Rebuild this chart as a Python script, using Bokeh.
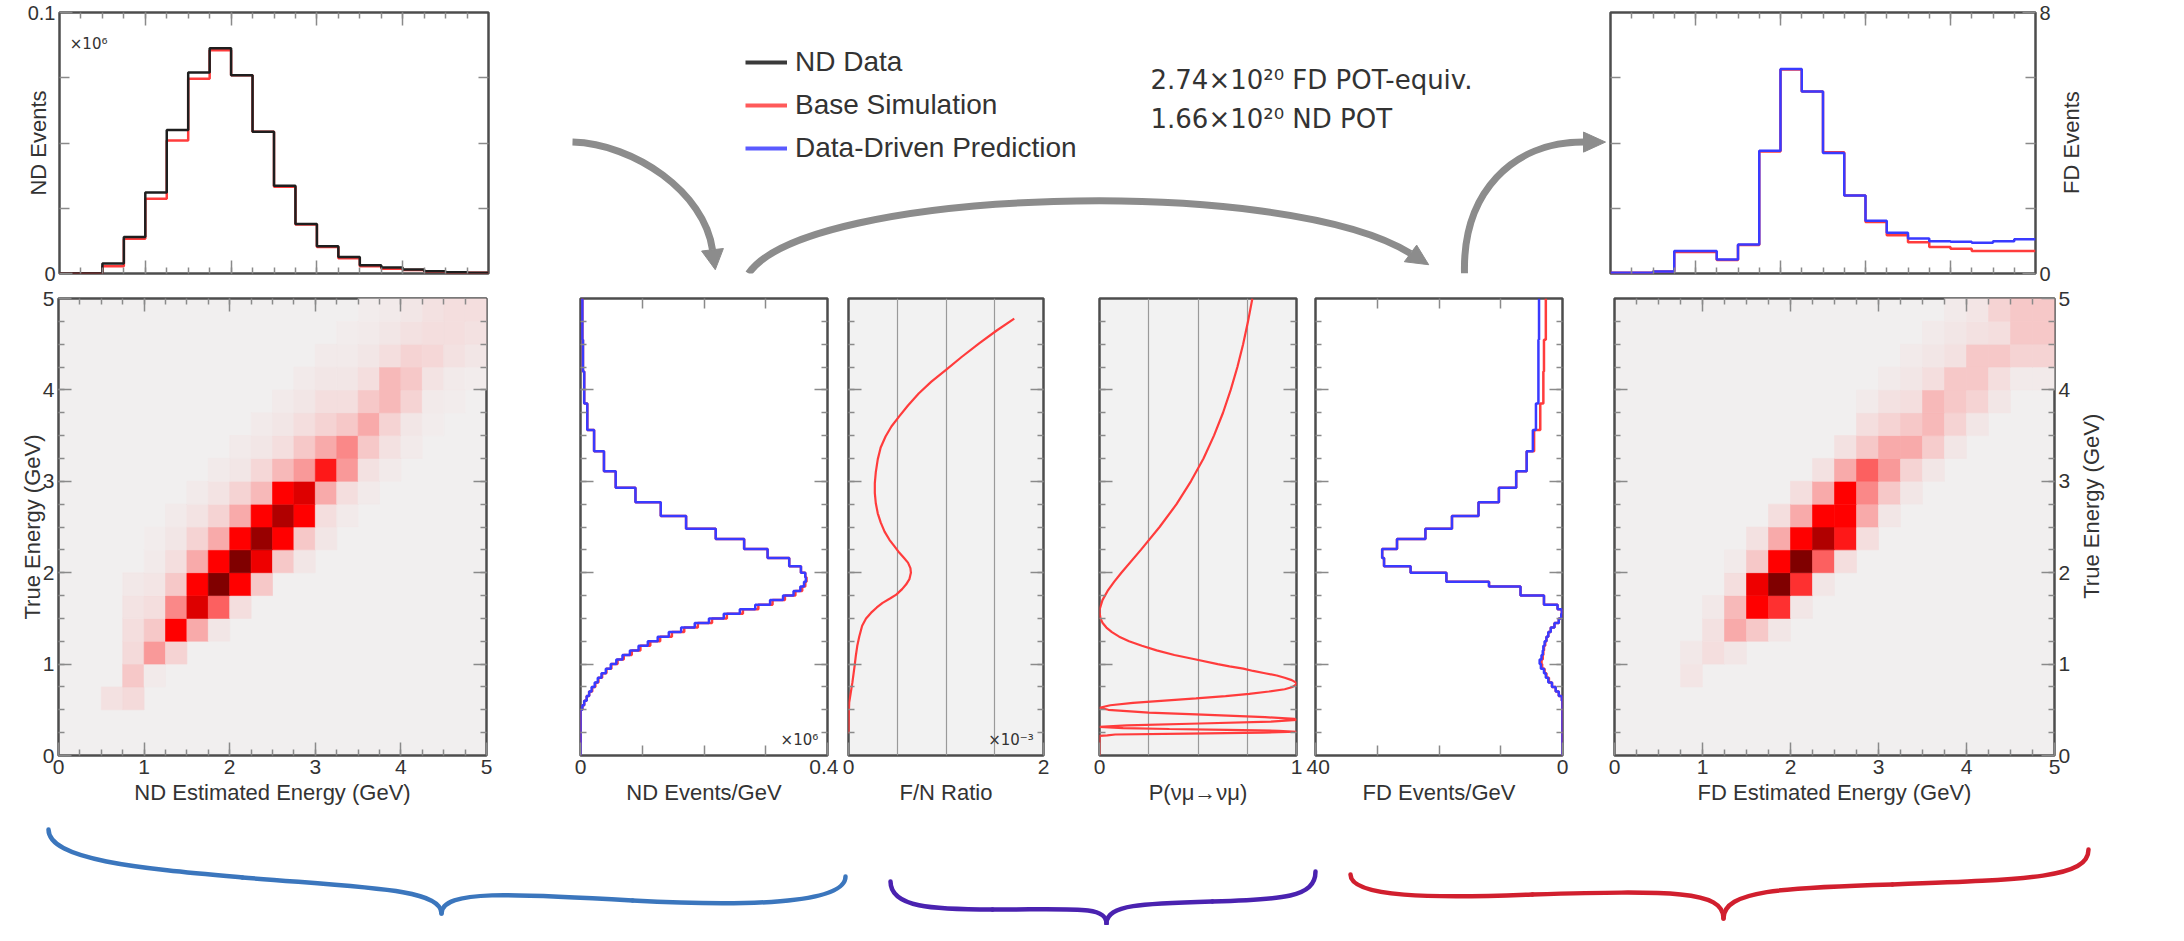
import math
import numpy as np
from bokeh.plotting import figure
from bokeh.layouts import row, column
from bokeh.models import (Range1d, LinearAxis, FixedTicker, NumeralTickFormatter, Grid,
                          Label, Legend, LegendItem, LinearColorMapper, ColumnDataSource)
from bokeh.embed import file_html
from bokeh.resources import INLINE

FONT = "Liberation Sans"
SUPFONT = "DejaVu Sans"
TXT = "#333333"
RED = "#ff3c3c"
BLUE = "#3a3aff"
BLACK = "#1e1e1e"

# ------------------------------------------------------------------ data
# reconstructed-energy bins (GeV) shared by the 1D spectra and 2D maps
e_edges = [0.0, 0.25, 0.5, 0.75, 1.0, 1.25, 1.5, 1.75, 2.0, 2.25, 2.5,
           2.75, 3.0, 3.25, 3.5, 3.75, 4.0, 4.25, 4.5, 4.75, 5.0]

# ND events (x1e6)
nd_data = [0, 0, 0.0038, 0.014, 0.031, 0.055, 0.077, 0.0863, 0.076, 0.0543,
           0.0336, 0.019, 0.0104, 0.0063, 0.0032, 0.0023, 0.0015, 0.0009, 0.0005, 0.0003]
nd_sim = [0, 0, 0.0028, 0.0133, 0.0286, 0.051, 0.0746, 0.0855, 0.076, 0.0543,
          0.0332, 0.0188, 0.0102, 0.0058, 0.0028, 0.0018, 0.0013, 0.0008, 0.0004, 0.0003]

# FD events
fd_pred = [0.02, 0.02, 0.06, 0.69, 0.69, 0.43, 0.89, 3.76, 6.27, 5.58,
           3.69, 2.39, 1.62, 1.25, 1.07, 0.99, 0.97, 0.94, 0.99, 1.05]
fd_sim = [0.02, 0.02, 0.06, 0.66, 0.66, 0.41, 0.87, 3.74, 6.25, 5.58,
          3.72, 2.39, 1.58, 1.17, 0.96, 0.81, 0.76, 0.69, 0.69, 0.69]

# true-energy bins (GeV) for the vertical spectra
true_edges = [0.0, 0.5, 0.55, 0.6, 0.65, 0.7, 0.75, 0.8, 0.85, 0.9, 0.95,
              1.0, 1.05, 1.1, 1.15, 1.2, 1.25, 1.3, 1.35, 1.4, 1.45,
              1.5, 1.55, 1.6, 1.65, 1.7, 1.75, 1.8, 1.85, 1.9, 1.95,
              2.0, 2.07, 2.16, 2.26, 2.37, 2.48, 2.62, 2.77, 2.93, 3.11,
              3.33, 3.56, 3.85, 4.2, 4.55, 5.0]

# ND events / GeV (x1e6)
nd_gev_pred = [0.0,
               0.003, 0.006, 0.010, 0.014, 0.018, 0.023, 0.028, 0.034, 0.041, 0.049,
               0.058, 0.068, 0.080, 0.094, 0.109, 0.125, 0.143, 0.163, 0.185, 0.208,
               0.232, 0.258, 0.283, 0.307, 0.328, 0.345, 0.356, 0.362, 0.365, 0.364,
               0.357, 0.338, 0.303, 0.265, 0.219, 0.171, 0.130, 0.089, 0.057, 0.038,
               0.022, 0.011, 0.006, 0.004, 0.003]
nd_gev_sim = [0.0,
              0.003, 0.006, 0.010, 0.014, 0.019, 0.024, 0.029, 0.035, 0.042, 0.050,
              0.060, 0.070, 0.083, 0.097, 0.113, 0.129, 0.148, 0.168, 0.190, 0.213,
              0.237, 0.263, 0.288, 0.311, 0.331, 0.348, 0.359, 0.364, 0.366, 0.364,
              0.357, 0.338, 0.303, 0.265, 0.219, 0.171, 0.130, 0.089, 0.057, 0.038,
              0.022, 0.011, 0.006, 0.004, 0.003]

# FD events / GeV
fd_gev_pred = [0.0,
               0.0, 0.0, 0.1, 0.6, 1.1, 1.7, 2.3, 2.7, 3.0, 3.5,
               3.7, 3.4, 3.2, 3.1, 2.9, 2.6, 2.3, 1.9, 1.3, 0.6,
               0.2, 0.1, 0.8, 3.0, 3.0, 6.8, 6.8, 11.9, 18.8, 18.8,
               24.6, 28.9, 29.2, 26.8, 22.2, 17.9, 13.6, 10.3, 7.5, 5.8,
               4.8, 4.3, 3.9, 3.9, 3.8]
fd_gev_sim = [0.0,
              0.0, 0.0, 0.1, 0.6, 1.1, 1.7, 2.2, 2.6, 2.9, 3.3,
              3.4, 3.2, 3.1, 3.0, 2.8, 2.6, 2.3, 1.9, 1.3, 0.6,
              0.2, 0.1, 0.8, 3.0, 3.0, 6.8, 6.8, 11.9, 18.8, 18.8,
              24.6, 28.9, 29.2, 26.8, 22.2, 17.9, 13.6, 10.3, 7.5, 5.8,
              4.6, 3.6, 3.1, 3.0, 2.7]

# Far/Near ratio (x1e-3) vs true energy
fn_energy = [0.24, 0.45, 0.58, 0.8, 1.0, 1.09, 1.2, 1.3, 1.42, 1.5,
             1.56, 1.62, 1.67, 1.72, 1.76, 1.82, 1.87, 1.93, 2.0, 2.05,
             2.11, 2.16, 2.22, 2.29, 2.36, 2.45, 2.55, 2.65, 2.76, 2.87,
             2.98, 3.1, 3.24, 3.37, 3.49, 3.6, 3.71, 3.83, 3.96, 4.09,
             4.22, 4.36, 4.51, 4.65, 4.78]
fn_ratio = [0.0, 0.003, 0.007, 0.04, 0.065, 0.075, 0.09, 0.11, 0.14, 0.18,
            0.23, 0.29, 0.35, 0.43, 0.49, 0.55, 0.59, 0.625, 0.64, 0.635,
            0.61, 0.57, 0.52, 0.47, 0.42, 0.37, 0.33, 0.30, 0.28, 0.27,
            0.27, 0.28, 0.30, 0.33, 0.38, 0.44, 0.52, 0.61, 0.72, 0.85,
            1.0, 1.16, 1.34, 1.52, 1.70]

# survival probability vs true energy
p_energy = [0.0, 0.215, 0.22, 0.23, 0.24, 0.25, 0.26, 0.27, 0.28, 0.29,
            0.3, 0.314, 0.33, 0.35, 0.37, 0.39, 0.4, 0.42, 0.45, 0.47,
            0.5, 0.523, 0.55, 0.575, 0.6, 0.625, 0.65, 0.675, 0.7, 0.725,
            0.75, 0.765, 0.78, 0.8, 0.825, 0.85, 0.875, 0.9, 0.925, 0.95,
            0.975, 1.0, 1.05, 1.1, 1.15, 1.2, 1.25, 1.3, 1.35, 1.4,
            1.45, 1.5, 1.57, 1.6, 1.7, 1.8, 1.9, 2.0, 2.25, 2.5,
            2.75, 3.0, 3.25, 3.5, 3.75, 4.0, 4.25, 4.5, 4.75, 5.0]
p_surv = [0.0, 0.0, 0.04, 0.08, 0.45, 0.83, 1.0, 0.91, 0.65, 0.355,
          0.12, 0.0, 0.14, 0.51, 0.87, 1.0, 0.99, 0.84, 0.49, 0.25,
          0.045, 0.0, 0.055, 0.17, 0.33, 0.49, 0.64, 0.76, 0.86, 0.94,
          0.98, 0.99, 1.0, 0.996, 0.976, 0.94, 0.90, 0.84, 0.78, 0.73,
          0.66, 0.60, 0.49, 0.38, 0.29, 0.215, 0.15, 0.10, 0.063, 0.035,
          0.016, 0.005, 0.0, 0.001, 0.015, 0.041, 0.074, 0.111, 0.21, 0.305,
          0.391, 0.464, 0.528, 0.581, 0.627, 0.666, 0.70, 0.729, 0.754, 0.776]

# 2D maps: rows = true-energy bin (from 0 GeV), cols = estimated-energy bin
nd_2d = [
    [0, 0, 0, 0, 0, 0, 0, 0, 0, 0, 0, 0, 0, 0, 0, 0, 0, 0, 0, 0],
    [0, 0, 0, 0, 0, 0, 0, 0, 0, 0, 0, 0, 0, 0, 0, 0, 0, 0, 0, 0],
    [0, 0, 0.8, 1.2, 0, 0, 0, 0, 0, 0, 0, 0, 0, 0, 0, 0, 0, 0, 0, 0],
    [0, 0, 0, 2, 0.3, 0, 0, 0, 0, 0, 0, 0, 0, 0, 0, 0, 0, 0, 0, 0],
    [0, 0, 0, 1.2, 3.5, 1.5, 0, 0, 0, 0, 0, 0, 0, 0, 0, 0, 0, 0, 0, 0],
    [0, 0, 0, 1, 2, 7, 3, 0.5, 0, 0, 0, 0, 0, 0, 0, 0, 0, 0, 0, 0],
    [0, 0, 0, 0.7, 1, 4, 8, 5, 1, 0, 0, 0, 0, 0, 0, 0, 0, 0, 0, 0],
    [0, 0, 0, 0.4, 0.6, 2, 7, 10, 7, 2, 0, 0, 0, 0, 0, 0, 0, 0, 0, 0],
    [0, 0, 0, 0, 0.3, 1, 3, 7, 10, 7.5, 2, 0.5, 0, 0, 0, 0, 0, 0, 0, 0],
    [0, 0, 0, 0, 0.2, 0.5, 1.5, 3, 7, 9.5, 7, 2, 0.5, 0, 0, 0, 0, 0, 0, 0],
    [0, 0, 0, 0, 0, 0.3, 0.7, 1.5, 3, 7, 9, 7, 1, 0.3, 0, 0, 0, 0, 0, 0],
    [0, 0, 0, 0, 0, 0, 0.3, 0.7, 1.5, 2.5, 7, 8, 3, 1, 0.3, 0, 0, 0, 0, 0],
    [0, 0, 0, 0, 0, 0, 0, 0.3, 0.5, 1.3, 2.5, 3.5, 6.5, 3.5, 0.8, 0.3, 0, 0, 0, 0],
    [0, 0, 0, 0, 0, 0, 0, 0, 0.3, 0.5, 1, 2, 3, 4, 2, 0.8, 0.3, 0, 0, 0],
    [0, 0, 0, 0, 0, 0, 0, 0, 0, 0.3, 0.5, 1, 1.5, 2, 3, 1.5, 0.5, 0.2, 0, 0],
    [0, 0, 0, 0, 0, 0, 0, 0, 0, 0, 0.3, 0.5, 1, 1, 2, 2.5, 1.5, 0.3, 0.2, 0],
    [0, 0, 0, 0, 0, 0, 0, 0, 0, 0, 0, 0.3, 0.5, 0.5, 1, 2.5, 2, 0.7, 0.3, 0.2],
    [0, 0, 0, 0, 0, 0, 0, 0, 0, 0, 0, 0, 0.3, 0.3, 0.5, 1, 1.5, 1.3, 0.8, 0.5],
    [0, 0, 0, 0, 0, 0, 0, 0, 0, 0, 0, 0, 0, 0.2, 0.3, 0.5, 0.8, 1, 1, 0.8],
    [0, 0, 0, 0, 0, 0, 0, 0, 0, 0, 0, 0, 0, 0, 0.2, 0.3, 0.5, 0.8, 1, 1],
]
fd_2d = [
    [0, 0, 0, 0, 0, 0, 0, 0, 0, 0, 0, 0, 0, 0, 0, 0, 0, 0, 0, 0],
    [0, 0, 0, 0, 0, 0, 0, 0, 0, 0, 0, 0, 0, 0, 0, 0, 0, 0, 0, 0],
    [0, 0, 0, 0, 0, 0, 0, 0, 0, 0, 0, 0, 0, 0, 0, 0, 0, 0, 0, 0],
    [0, 0, 0, 0.6, 0, 0, 0, 0, 0, 0, 0, 0, 0, 0, 0, 0, 0, 0, 0, 0],
    [0, 0, 0, 0.4, 1, 0.5, 0, 0, 0, 0, 0, 0, 0, 0, 0, 0, 0, 0, 0, 0],
    [0, 0, 0, 0, 0.8, 3, 2, 0.5, 0, 0, 0, 0, 0, 0, 0, 0, 0, 0, 0, 0],
    [0, 0, 0, 0, 0.4, 2.5, 7, 6, 0.5, 0, 0, 0, 0, 0, 0, 0, 0, 0, 0, 0],
    [0, 0, 0, 0, 0, 1, 7.5, 10, 6, 0.5, 0, 0, 0, 0, 0, 0, 0, 0, 0, 0],
    [0, 0, 0, 0, 0, 0.3, 2, 7, 10, 5, 1, 0, 0, 0, 0, 0, 0, 0, 0, 0],
    [0, 0, 0, 0, 0, 0, 0.8, 3, 7, 9, 6.5, 1, 0, 0, 0, 0, 0, 0, 0, 0],
    [0, 0, 0, 0, 0, 0, 0, 1, 3, 7, 7, 3, 0.5, 0, 0, 0, 0, 0, 0, 0],
    [0, 0, 0, 0, 0, 0, 0, 0, 1, 3, 7, 4, 2, 0.5, 0, 0, 0, 0, 0, 0],
    [0, 0, 0, 0, 0, 0, 0, 0, 0, 0.8, 3, 5, 3.5, 1.5, 0.5, 0, 0, 0, 0, 0],
    [0, 0, 0, 0, 0, 0, 0, 0, 0, 0, 0.8, 2, 3, 3, 1.8, 0.5, 0, 0, 0, 0],
    [0, 0, 0, 0, 0, 0, 0, 0, 0, 0, 0, 1, 1.5, 2, 2.5, 1.5, 0.5, 0, 0, 0],
    [0, 0, 0, 0, 0, 0, 0, 0, 0, 0, 0, 0.3, 0.8, 1, 2.5, 2, 1.5, 0.5, 0, 0],
    [0, 0, 0, 0, 0, 0, 0, 0, 0, 0, 0, 0, 0.3, 0.5, 1, 2, 2, 1, 0.3, 0.3],
    [0, 0, 0, 0, 0, 0, 0, 0, 0, 0, 0, 0, 0, 0.3, 0.5, 0.8, 2, 2, 1.5, 1.5],
    [0, 0, 0, 0, 0, 0, 0, 0, 0, 0, 0, 0, 0, 0, 0.3, 0.5, 0.8, 1, 2, 2],
    [0, 0, 0, 0, 0, 0, 0, 0, 0, 0, 0, 0, 0, 0, 0, 0.3, 0.6, 1.5, 2, 2],
]

legend_labels = ["ND Data", "Base Simulation", "Data-Driven Prediction"]
pot_texts = ["2.74×10²⁰ FD POT-equiv.", "1.66×10²⁰ ND POT"]

# ------------------------------------------------------------------ helpers
QUARTERS = [0.25 * i for i in range(1, 20)]
INTEGERS = [1, 2, 3, 4]
HBG = "#f1efef"
TICK = "#8a8a8a"


def hstep(edges, vals):
    xs, ys = [], []
    for i, v in enumerate(vals):
        xs += [edges[i], edges[i + 1]]
        ys += [v, v]
    return xs, ys


def panel(width, height, xr, yr, borders, bg="white"):
    p = figure(width=width, height=height, x_range=xr, y_range=yr,
               x_axis_type=None, y_axis_type=None,
               output_backend="svg", toolbar_location=None,
               min_border_left=borders[0], min_border_right=borders[1],
               min_border_top=borders[2], min_border_bottom=borders[3])
    p.background_fill_color = bg
    p.border_fill_color = "white"
    p.outline_line_color = "#4d4d4d"
    p.outline_line_width = 2.5
    return p


def blank(width, height):
    p = figure(width=width, height=height, x_range=Range1d(0, width),
               y_range=Range1d(height, 0), x_axis_type=None, y_axis_type=None,
               output_backend="svg", toolbar_location=None, min_border=0)
    p.outline_line_color = None
    p.background_fill_color = "white"
    p.border_fill_color = "white"
    return p


def style_ticks(ax, maj_in=13, min_in=6):
    ax.axis_line_color = None
    ax.major_tick_in = maj_in
    ax.major_tick_out = 0
    ax.minor_tick_in = min_in
    ax.minor_tick_out = 0
    ax.major_tick_line_color = TICK
    ax.major_tick_line_width = 1.5
    ax.minor_tick_line_color = TICK
    ax.minor_tick_line_width = 1.5


def labeled_axis(p, side, ticks, minor, label=None, fmt=None, size="21px", min_in=6,
                 label_standoff=3):
    ax = LinearAxis(ticker=FixedTicker(ticks=ticks, minor_ticks=minor))
    style_ticks(ax, 13, min_in)
    ax.major_label_text_font = FONT
    ax.major_label_text_font_size = size
    ax.major_label_text_color = TXT
    ax.major_label_standoff = 4
    if fmt is not None:
        ax.formatter = fmt
    if label:
        ax.axis_label = label
        ax.axis_label_text_font = FONT
        ax.axis_label_text_font_size = "22px"
        ax.axis_label_text_font_style = "normal"
        ax.axis_label_text_color = TXT
        ax.axis_label_standoff = label_standoff
    p.add_layout(ax, side)


def tick_side(p, side, long_ticks, short_ticks, long_in=13, short_in=6):
    # unlabeled frame side: ticks only (no tick labels at all)
    for pos, length in ((long_ticks, long_in), (short_ticks, short_in)):
        if not pos:
            continue
        ax = LinearAxis(ticker=FixedTicker(ticks=[], minor_ticks=pos))
        style_ticks(ax, 0, length)
        ax.major_label_standoff = 0
        p.add_layout(ax, side)


def strip_title(p, x, y, text):
    p.add_layout(Label(x=x, y=y, text=text, angle=math.pi / 2, text_font=FONT,
                       text_font_size="22px", text_color=TXT,
                       text_align="center", text_baseline="middle"))


def power_label(p, x, y, text, align):
    p.add_layout(Label(x=x, y=y, text=text, text_font=SUPFONT, text_font_size="15px",
                       text_color=TXT, text_align=align, text_baseline="middle"))


anchors = [(241, 239, 239), (244, 222, 222), (246, 200, 200), (248, 170, 170),
           (250, 136, 136), (252, 96, 96), (254, 48, 48), (255, 0, 0),
           (221, 0, 0), (176, 0, 0), (128, 0, 0)]
palette = []
for k in range(101):
    t = k / 10.0
    i = min(int(t), 9)
    f = t - i
    c = tuple(int(round(anchors[i][m] * (1 - f) + anchors[i + 1][m] * f)) for m in range(3))
    palette.append("#%02x%02x%02x" % c)
mapper = LinearColorMapper(palette=palette, low=0, high=10)


def heat_source(mat):
    xs, ys, ws, hs, vs = [], [], [], [], []
    for i, rv in enumerate(mat):
        for j, v in enumerate(rv):
            if v > 0:
                xs.append((e_edges[j] + e_edges[j + 1]) / 2)
                ys.append((e_edges[i] + e_edges[i + 1]) / 2)
                ws.append(e_edges[j + 1] - e_edges[j])
                hs.append(e_edges[i + 1] - e_edges[i])
                vs.append(v)
    return ColumnDataSource(dict(x=xs, y=ys, w=ws, h=hs, v=vs))


def heat(p, mat):
    p.rect("x", "y", width="w", height="h", source=heat_source(mat),
           fill_color={"field": "v", "transform": mapper},
           line_color={"field": "v", "transform": mapper}, line_width=0.6)


def energy_sides(p):
    tick_side(p, "left", INTEGERS, QUARTERS)
    tick_side(p, "right", INTEGERS, QUARTERS)


# ------------------------------------------------------------------ top row
TOP_H = 286
tl = panel(500, TOP_H, Range1d(0, 5), Range1d(0, 0.1), (59, 12, 12, 13))
labeled_axis(tl, "left", [0, 0.1], [0.025, 0.05, 0.075], label="ND Events",
             fmt=NumeralTickFormatter(format="0.[0]"), size="20px", min_in=10,
             label_standoff=-26)
tick_side(tl, "right", [], [0.025, 0.05, 0.075], short_in=10)
tick_side(tl, "below", INTEGERS, QUARTERS)
tick_side(tl, "above", INTEGERS, QUARTERS)
x, y = hstep(e_edges, nd_sim)
tl.line(x, y, line_color=RED, line_width=2.5)
x, y = hstep(e_edges, nd_data)
tl.line(x, y, line_color=BLACK, line_width=2.5)
power_label(tl, 0.12, 0.088, "×10⁶", "left")

tr = panel(447, TOP_H, Range1d(0, 5), Range1d(0, 8), (4, 16, 12, 13))
labeled_axis(tr, "right", [0, 8], [2, 4, 6], size="20px", min_in=10)
tick_side(tr, "left", [], [2, 4, 6], short_in=10)
tick_side(tr, "below", INTEGERS, QUARTERS)
tick_side(tr, "above", INTEGERS, QUARTERS)
x, y = hstep(e_edges, fd_sim)
tr.line(x, y, line_color=RED, line_width=2.5)
x, y = hstep(e_edges, fd_pred)
tr.line(x, y, line_color=BLUE, line_width=2.5)

tr_strip = blank(115, TOP_H)
strip_title(tr_strip, 18, 142.5, "FD Events")

# middle decoration area (coordinates = page pixels)
mid = figure(width=1106, height=TOP_H, x_range=Range1d(508, 1614), y_range=Range1d(8 + TOP_H, 8),
             x_axis_type=None, y_axis_type=None, output_backend="svg",
             toolbar_location=None, min_border=0)
mid.outline_line_color = None
mid.background_fill_color = "white"
mid.border_fill_color = "white"

# legend proxies (kept off-canvas; only their legend swatches are shown)
r_b = mid.line(x=[0, 1], y=[0, 0], line_color="#3a3a3a", line_width=4)
r_r = mid.line(x=[0, 1], y=[0, 0], line_color="#ff5a5a", line_width=4)
r_u = mid.line(x=[0, 1], y=[0, 0], line_color="#5a5aff", line_width=4)
leg = Legend(items=[LegendItem(label=legend_labels[0], renderers=[r_b]),
                    LegendItem(label=legend_labels[1], renderers=[r_r]),
                    LegendItem(label=legend_labels[2], renderers=[r_u])],
             location=(245, 108), orientation="vertical",
             label_text_font=FONT, label_text_font_size="28px", label_text_color=TXT,
             glyph_width=42, glyph_height=34, label_height=34, label_standoff=8,
             spacing=9, padding=0, margin=0, border_line_color=None,
             background_fill_alpha=0)
mid.add_layout(leg)
for txt, yy in zip(pot_texts, [82, 125]):
    mid.add_layout(Label(x=1158, y=yy, text=txt, text_font=SUPFONT, text_font_size="26px",
                         text_color=TXT, text_baseline="middle", text_align="left"))

ARROW = "#8c8c8c"


def arrow(p, P0, C0, C1, P3, w=7, hl=22, hw=11):
    p.bezier(x0=[P0[0]], y0=[P0[1]], x1=[P3[0]], y1=[P3[1]],
             cx0=[C0[0]], cy0=[C0[1]], cx1=[C1[0]], cy1=[C1[1]],
             line_color=ARROW, line_width=w)
    d = np.array(P3, float) - np.array(C1, float)
    d = d / np.linalg.norm(d)
    n = np.array([-d[1], d[0]])
    e = np.array(P3, float)
    tip = e + d * hl
    b1 = e + n * hw
    b2 = e - n * hw
    p.patch([b1[0], tip[0], b2[0]], [b1[1], tip[1], b2[1]],
            fill_color=ARROW, line_color=ARROW, line_width=1)


arrow(mid, (580, 150), (642, 152), (712, 205), (720, 268))
arrow(mid, (756, 294), (815, 200), (1290, 185), (1418, 272))
arrow(mid, (1472, 294), (1470, 205), (1520, 150), (1591, 150))

# ------------------------------------------------------------------ bottom row
BOT_H = 529
BORD = (12, 60)  # top, bottom

h1 = panel(540, BOT_H, Range1d(0, 5), Range1d(0, 5), (58, 54) + BORD, bg=HBG)
heat(h1, nd_2d)
labeled_axis(h1, "below", [0, 1, 2, 3, 4, 5], QUARTERS, label="ND Estimated Energy (GeV)")
labeled_axis(h1, "left", [0, 1, 2, 3, 4, 5], QUARTERS, label="True Energy (GeV)",
             label_standoff=-5)
tick_side(h1, "above", INTEGERS, QUARTERS)
tick_side(h1, "right", INTEGERS, QUARTERS)

ev1 = panel(298, BOT_H, Range1d(0, 0.4), Range1d(0, 5), (40, 11) + BORD)
labeled_axis(ev1, "below", [0, 0.4], [0.1, 0.2, 0.3], label="ND Events/GeV",
             fmt=NumeralTickFormatter(format="0.[0]"), min_in=10)
tick_side(ev1, "above", [], [0.1, 0.2, 0.3], short_in=10)
energy_sides(ev1)
y, x = hstep(true_edges, nd_gev_sim)
ev1.line(x, y, line_color=RED, line_width=2.5)
y, x = hstep(true_edges, nd_gev_pred)
ev1.line(x, y, line_color=BLUE, line_width=2.5)
power_label(ev1, 0.385, 0.17, "×10⁶", "right")

fn = panel(233, BOT_H, Range1d(0, 2), Range1d(0, 5), (10, 28) + BORD, bg="#f2f2f2")
fn.add_layout(Grid(dimension=0, ticker=FixedTicker(ticks=[0.5, 1.0, 1.5]),
                   grid_line_color="#9a9a9a", grid_line_width=1.2))
labeled_axis(fn, "below", [0, 2], [], label="F/N Ratio")
energy_sides(fn)
fn.line(fn_ratio, fn_energy, line_color=RED, line_width=2.2)
power_label(fn, 1.9, 0.17, "×10⁻³", "right")

pp = panel(235, BOT_H, Range1d(0, 1), Range1d(0, 5), (28, 10) + BORD, bg="#f2f2f2")
pp.add_layout(Grid(dimension=0, ticker=FixedTicker(ticks=[0.25, 0.5, 0.75]),
                   grid_line_color="#9a9a9a", grid_line_width=1.2))
labeled_axis(pp, "below", [0, 1], [], label="P(νμ→νμ)")
energy_sides(pp)
pp.line(p_surv, p_energy, line_color=RED, line_width=2.2)

ev2 = panel(282, BOT_H, Range1d(40, 0), Range1d(0, 5), (9, 26) + BORD)
labeled_axis(ev2, "below", [0, 40], [10, 20, 30], label="FD Events/GeV", min_in=10)
tick_side(ev2, "above", [], [10, 20, 30], short_in=10)
energy_sides(ev2)
y, x = hstep(true_edges, fd_gev_sim)
ev2.line(x, y, line_color=RED, line_width=2.5)
y, x = hstep(true_edges, fd_gev_pred)
ev2.line(x, y, line_color=BLUE, line_width=2.5)

h2 = panel(485, BOT_H, Range1d(0, 5), Range1d(0, 5), (26, 18) + BORD, bg=HBG)
heat(h2, fd_2d)
labeled_axis(h2, "below", [0, 1, 2, 3, 4, 5], QUARTERS, label="FD Estimated Energy (GeV)")
labeled_axis(h2, "right", [0, 1, 2, 3, 4, 5], QUARTERS)
tick_side(h2, "above", INTEGERS, QUARTERS)
tick_side(h2, "left", INTEGERS, QUARTERS)

h2_strip = blank(95, BOT_H)
strip_title(h2_strip, 18, 12 + 457 / 2, "True Energy (GeV)")

# ------------------------------------------------------------------ braces
br = figure(width=2168, height=110, x_range=Range1d(8, 2176), y_range=Range1d(933, 823),
            x_axis_type=None, y_axis_type=None, output_backend="svg",
            toolbar_location=None, min_border=0)
br.outline_line_color = None
br.background_fill_color = "white"
br.border_fill_color = "white"


def brace(p, color, segs):
    p.bezier(x0=[s[0][0] for s in segs], y0=[s[0][1] for s in segs],
             cx0=[s[1][0] for s in segs], cy0=[s[1][1] for s in segs],
             cx1=[s[2][0] for s in segs], cy1=[s[2][1] for s in segs],
             x1=[s[3][0] for s in segs], y1=[s[3][1] for s in segs],
             line_color=color, line_width=4.5, line_cap="round")


brace(br, "#3b76bd", [
    ((56, 837), (56, 868), (150, 876), (250, 885)),
    ((250, 885), (370, 895), (449, 896), (449, 921)),
    ((449, 921), (449, 897), (520, 901), (640, 908)),
    ((640, 908), (750, 914), (853, 912), (853, 884)),
])
brace(br, "#4a22b0", [
    ((898, 889), (898, 915), (940, 917), (1000, 917)),
    ((1000, 917), (1080, 917), (1114, 913), (1114, 931)),
    ((1114, 931), (1114, 912), (1150, 911), (1220, 909)),
    ((1220, 909), (1290, 907), (1323, 905), (1323, 879)),
])
brace(br, "#d11f2e", [
    ((1358, 882), (1358, 905), (1440, 906), (1540, 902)),
    ((1540, 902), (1680, 898), (1731, 898), (1731, 926)),
    ((1731, 926), (1731, 898), (1790, 895), (1900, 892)),
    ((1900, 892), (2040, 887), (2096, 885), (2096, 857)),
])

layout = column(row(tl, mid, tr, tr_strip),
                row(h1, ev1, fn, pp, ev2, h2, h2_strip), br)
open("out.html", "w").write(file_html(layout, INLINE))
